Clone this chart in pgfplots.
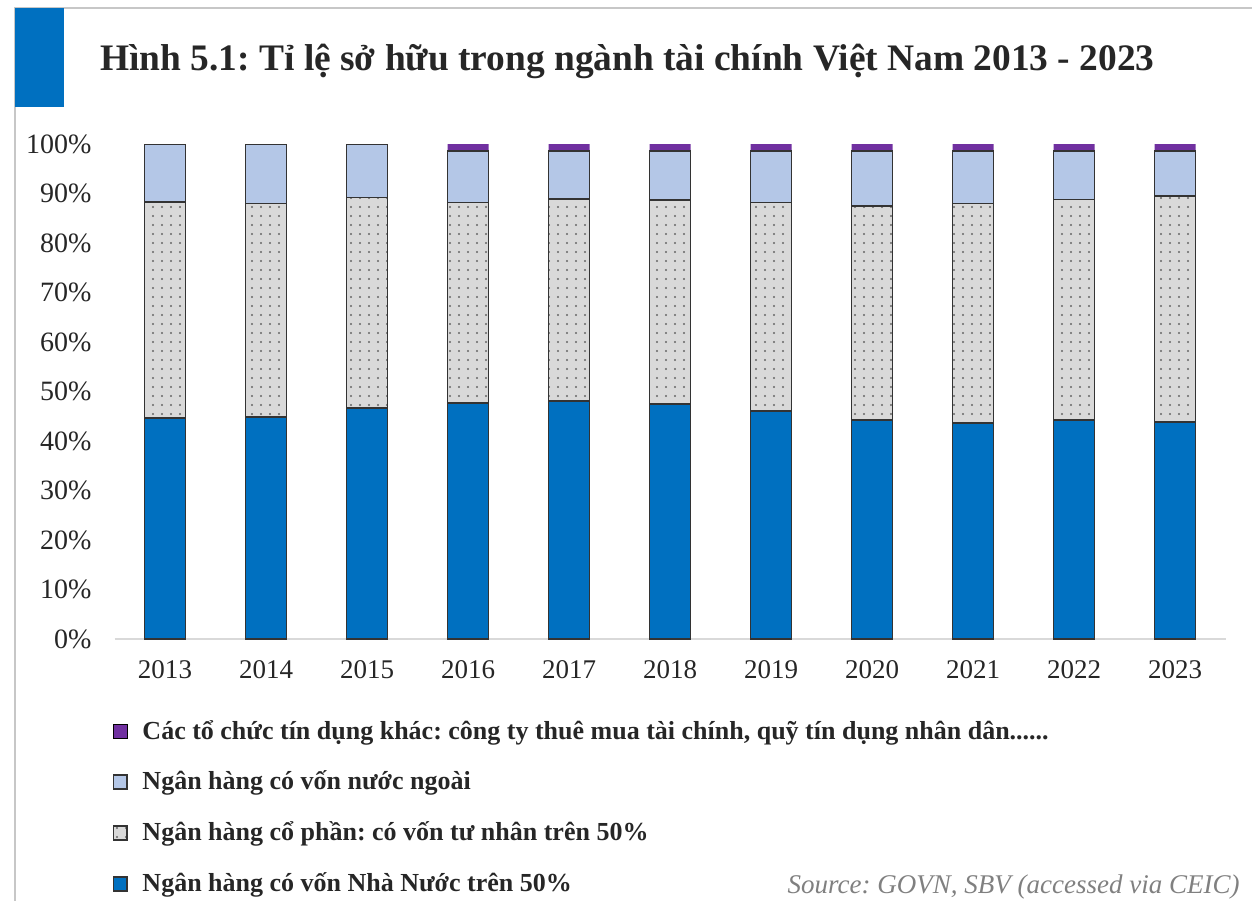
\documentclass[border=0pt]{standalone}
\usepackage{fontspec}
\setmainfont{Liberation Serif}
\usepackage{pgfplots}
\pgfplotsset{compat=1.18}
\usetikzlibrary{patterns.meta}
\frenchspacing

\definecolor{stateblue}{RGB}{0,112,192}
\definecolor{foreignblue}{RGB}{180,199,231}
\definecolor{jointgray}{RGB}{217,217,217}
\definecolor{otherpurple}{RGB}{112,48,160}

\pgfplotsset{
  sqlegend/.style={legend image code/.code={%
    \draw[##1] (0pt,-3.4pt) rectangle (6.8pt,3.4pt);
    \node[inner sep=0pt, minimum size=0pt] at (12pt,0pt) {};}},
}

\begin{document}
\begin{tikzpicture}
\useasboundingbox (0pt,0pt) rectangle (626pt,-450pt);
% frame and blue tab
\draw[black!22, line width=1pt] (7.5pt,-451pt) -- (7.5pt,-4pt) -- (627pt,-4pt);
\fill[stateblue] (7.5pt,-4pt) rectangle (32pt,-53.5pt);
\node[anchor=base west, inner sep=0pt, font=\fontsize{18.7}{22}\selectfont\bfseries, text=black!85]
  at (50pt,-35pt) {Hình 5.1: Tỉ lệ sở hữu trong ngành tài chính Việt Nam 2013 - 2023};

\begin{axis}[
  at={(57.25pt,-319.5pt)}, anchor=south west,
  scale only axis, width=555.5pt, height=247.5pt,
  ybar stacked, bar width=20.5pt,
  xmin=-0.5, xmax=10.5, ymin=0, ymax=100,
  xtick=data,
  xticklabels={2013,2014,2015,2016,2017,2018,2019,2020,2021,2022,2023},
  ytick={0,10,...,100},
  yticklabel={\pgfmathprintnumber{\tick}\%},
  /pgf/number format/assume math mode=true,
  axis x line*=bottom, axis y line*=left,
  x axis line style={draw=black!15, line width=1pt, -},
  y axis line style={draw=none},
  major tick length=0pt,
  tick label style={font=\fontsize{13.5}{16}\selectfont, text=black!85},
  xticklabel style={yshift=-7pt},
  yticklabel style={xshift=-8pt, font=\fontsize{14}{16}\selectfont},
  reverse legend,
  legend cell align=left,
  legend style={at={(-0.002,-0.155)}, anchor=north west, draw=none, fill=none,
    row sep=10.5pt, font=\fontsize{13}{15}\selectfont\bfseries, text=black!85,
    inner sep=0pt},
]
\addplot[fill=stateblue, draw=black!80, line width=0.9pt, sqlegend]
  coordinates {(0,44.6) (1,44.8) (2,46.7) (3,47.7) (4,48.1) (5,47.5)
               (6,46.1) (7,44.2) (8,43.6) (9,44.2) (10,43.8)};
\addlegendentry{Ngân hàng có vốn Nhà Nước trên 50\%}
\addplot[fill=jointgray, draw=black!80, line width=0.9pt,
  postaction={pattern={Dots[distance=4.5pt, radius=0.6pt]}, pattern color=black!60}, sqlegend]
  coordinates {(0,43.7) (1,43.2) (2,42.5) (3,40.5) (4,40.8) (5,41.2)
               (6,42.1) (7,43.3) (8,44.4) (9,44.6) (10,45.7)};
\addlegendentry{Ngân hàng cổ phần: có vốn tư nhân trên 50\%}
\addplot[fill=foreignblue, draw=black!80, line width=0.9pt, sqlegend]
  coordinates {(0,11.7) (1,12.0) (2,10.8) (3,10.4) (4,9.7) (5,9.9)
               (6,10.4) (7,11.1) (8,10.6) (9,9.8) (10,9.1)};
\addlegendentry{Ngân hàng có vốn nước ngoài}
\addplot[fill=otherpurple, draw=none, sqlegend]
  coordinates {(0,0) (1,0) (2,0) (3,1.4) (4,1.4) (5,1.4)
               (6,1.4) (7,1.4) (8,1.4) (9,1.4) (10,1.4)};
\addlegendentry{Các tổ chức tín dụng khác: công ty thuê mua tài chính, quỹ tín dụng nhân dân......}
\end{axis}

\node[anchor=base east, inner sep=0pt, font=\fontsize{13.5}{16}\selectfont\itshape, text=black!50]
  at (620pt,-446.5pt) {Source: GOVN, SBV (accessed via CEIC)};
\end{tikzpicture}
\end{document}
